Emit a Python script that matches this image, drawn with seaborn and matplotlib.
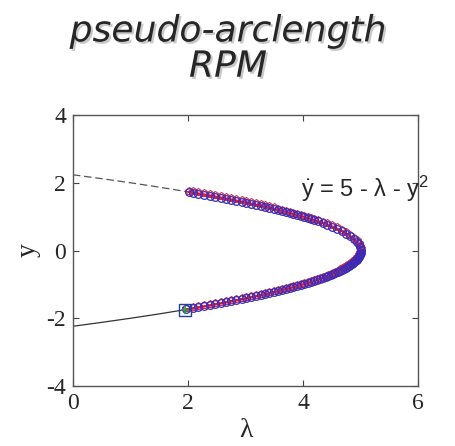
import matplotlib
matplotlib.use("Agg")
import matplotlib.pyplot as plt
import matplotlib.patheffects as pe
import seaborn as sns
import pandas as pd

# ---- data ----
# continuation points (lambda, y), lower branch -> fold -> upper branch
lam_lower = [1.97, 2.08, 2.18, 2.28, 2.38, 2.47, 2.57, 2.66, 2.75, 2.84, 2.93, 3.01,
             3.10, 3.18, 3.26, 3.34, 3.41, 3.49, 3.56, 3.63, 3.70, 3.77, 3.83, 3.90,
             3.96, 4.02, 4.08, 4.14, 4.19, 4.24, 4.29, 4.34, 4.39, 4.44, 4.48, 4.52,
             4.56, 4.60, 4.64, 4.68, 4.71, 4.74, 4.77, 4.80, 4.82, 4.85, 4.87, 4.89,
             4.91, 4.93, 4.94, 4.96, 4.97, 4.98, 4.99, 4.99, 5.00]
y_lower = [-1.74, -1.71, -1.68, -1.65, -1.62, -1.59, -1.56, -1.53, -1.50, -1.47, -1.44, -1.41,
           -1.38, -1.35, -1.32, -1.29, -1.26, -1.23, -1.20, -1.17, -1.14, -1.11, -1.08, -1.05,
           -1.02, -0.99, -0.96, -0.93, -0.90, -0.87, -0.84, -0.81, -0.78, -0.75, -0.72, -0.69,
           -0.66, -0.63, -0.60, -0.57, -0.54, -0.51, -0.48, -0.45, -0.42, -0.39, -0.36, -0.33,
           -0.30, -0.27, -0.24, -0.21, -0.18, -0.15, -0.12, -0.09, -0.06]
lam_upper = [5.00, 4.99, 4.97, 4.93, 4.88, 4.82, 4.75, 4.68, 4.59, 4.51, 4.42, 4.34,
             4.26, 4.19, 4.14, 4.08, 4.02, 3.96, 3.90, 3.83, 3.77, 3.70, 3.63, 3.56,
             3.49, 3.41, 3.34, 3.26, 3.18, 3.10, 3.01, 2.93, 2.84, 2.75, 2.66, 2.57,
             2.47, 2.38, 2.28, 2.18, 2.08, 2.01]
y_upper = [0.02, 0.10, 0.18, 0.26, 0.34, 0.42, 0.50, 0.57, 0.64, 0.70, 0.76, 0.81,
           0.86, 0.90, 0.93, 0.96, 0.99, 1.02, 1.05, 1.08, 1.11, 1.14, 1.17, 1.20,
           1.23, 1.26, 1.29, 1.32, 1.35, 1.38, 1.41, 1.44, 1.47, 1.50, 1.53, 1.56,
           1.59, 1.62, 1.65, 1.68, 1.71, 1.73]

# branches before the continuation start
branch_lam = [0.0, 0.5, 1.0, 1.5, 2.0]
branch_up = [2.236, 2.121, 2.000, 1.871, 1.732]
branch_lo = [-2.236, -2.121, -2.000, -1.871, -1.732]

start_lam = [1.95]
start_y = [-1.75]

x_ticks = [0, 2, 4, 6]
y_ticks = [-4, -2, 0, 2, 4]

# ---- plot ----
sns.set_style("white")
plt.rcParams["font.family"] = ["Liberation Serif", "DejaVu Serif"]
plt.rcParams["mathtext.fontset"] = "custom"
plt.rcParams["mathtext.rm"] = "Liberation Sans"
plt.rcParams["mathtext.it"] = "Liberation Sans"

fig = plt.figure(figsize=(4.56, 4.46), dpi=100)
ax = fig.add_axes([0.160, 0.1345, 0.757, 0.6076])

cont = pd.DataFrame({"lam": lam_lower + lam_upper, "y": y_lower + y_upper})
br = pd.DataFrame({"lam": branch_lam, "up": branch_up, "lo": branch_lo})

sns.lineplot(data=br, x="lam", y="up", ax=ax, color="#555555", lw=0.9,
             linestyle=(0, (6, 3)), sort=False, estimator=None)
sns.lineplot(data=br, x="lam", y="lo", ax=ax, color="#333333", lw=0.9,
             sort=False, estimator=None)

sns.lineplot(data=cont, x="lam", y="y", ax=ax, color="#e8102a", lw=1.8,
             sort=False, estimator=None)
ax.plot(cont["lam"], cont["y"] + 0.04, linestyle="none", marker="p", ms=6,
        mfc="none", mec="#d0304a", mew=0.8)
ax.plot(cont["lam"], cont["y"], linestyle="none", marker="o", ms=5.5,
        mfc="none", mec="#3a2ab8", mew=0.9)

ax.plot(start_lam, start_y, linestyle="none", marker="s", ms=8, mfc="none",
        mec="#2040a0", mew=1.0)
ax.plot(start_lam, start_y, linestyle="none", marker="+", ms=6, mec="#20a040", mew=1.2)

ax.set_xlim(0, 6)
ax.set_ylim(-4, 4)
ax.set_xticks(x_ticks)
ax.set_yticks(y_ticks)
ax.set_xticklabels([str(t) for t in x_ticks], fontsize=17)
ax.set_yticklabels([str(t) for t in y_ticks], fontsize=17)
ax.tick_params(direction="in", length=4, width=0.8, color="#444444",
               top=True, right=True, left=True, bottom=True, pad=5)
for s in ax.spines.values():
    s.set_color("#555555")
    s.set_linewidth(1.0)

ax.set_xlabel("λ", fontsize=20, labelpad=3)
ax.set_ylabel("y", fontsize=20, labelpad=4)

ax.text(3.97, 1.83, r"$\dot{y}$ = 5 - λ - y$^2$", fontsize=17, va="center", ha="left",
        family=["Liberation Sans", "DejaVu Sans"], clip_on=False)

fig.text(0.5, 0.89, "pseudo-arclength\nRPM", ha="center", va="center",
         fontsize=26, style="italic", family=["DejaVu Sans"], linespacing=1.05,
         path_effects=[pe.withSimplePatchShadow(offset=(1.5, -1.5), alpha=0.35,
                                                shadow_rgbFace="#666666")])

fig.savefig("out.png", dpi=100)
